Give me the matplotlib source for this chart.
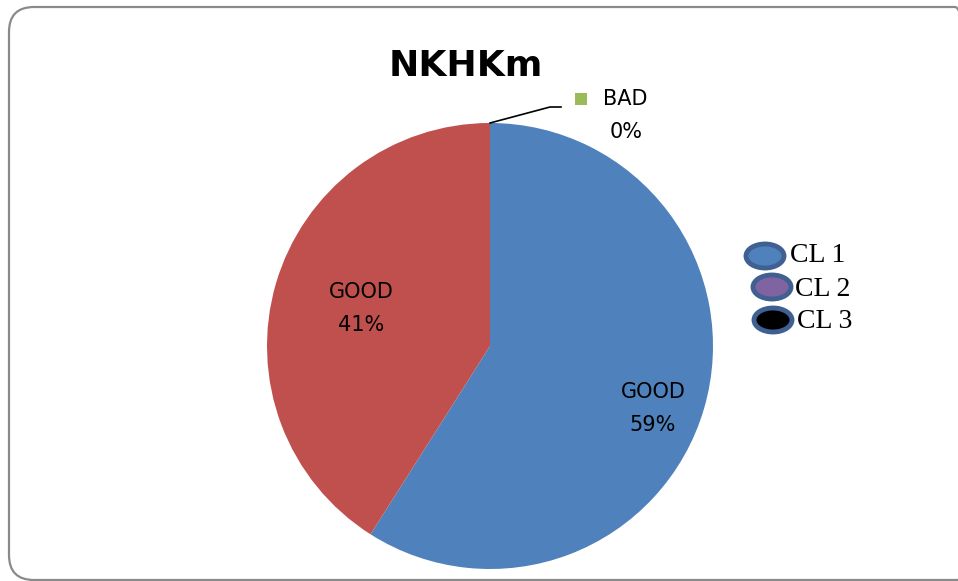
import numpy as np
import matplotlib
matplotlib.use("Agg")
import matplotlib.pyplot as plt
import matplotlib.patches as patches

# chart data
title = "NKHKm"
slice_names = ["GOOD", "GOOD", "BAD"]
slice_values = [59, 41, 0]
slice_colors = ["#4F81BD", "#C0504D", "#9BBB59"]
legend_names = ["CL 1", "CL 2", "CL 3"]
legend_colors = ["#4F81BD", "#8064A2", "#000000"]

W, H = 958, 581


def py(y):
    # image pixel row -> axes y (pixels, y up)
    return H - y


fig = plt.figure(figsize=(W / 100, H / 100), dpi=100)
ax = fig.add_axes([0, 0, 1, 1])

cx, cy, r = 490, py(346), 223
wedges, _ = ax.pie(
    slice_values,
    colors=slice_colors,
    startangle=90,
    counterclock=False,
    center=(cx, cy),
    radius=r,
    wedgeprops=dict(linewidth=0),
)
ax.set_xlim(0, W)
ax.set_ylim(0, H)
ax.set_aspect("auto")
ax.axis("off")

# outer rounded frame (right side runs off the picture)
fl, fb, fr, ft, rad = 9, 1, 980, 574, 25
frame = patches.FancyBboxPatch(
    (fl + rad, fb + rad), fr - fl - 2 * rad, ft - fb - 2 * rad,
    boxstyle=f"round,pad={rad}",
    fc="none", ec="#8A8A8A", lw=1.6, clip_on=False,
)
ax.add_patch(frame)

# title
ax.text(466, py(66), title, ha="center", va="center",
        fontsize=26, fontweight="bold", family="DejaVu Sans")

# slice labels
label_pos = [(653, 408), (361, 308)]
for (lx, ly), name, val in zip(label_pos, slice_names[:2], slice_values[:2]):
    ax.text(lx, py(ly - 16), name, ha="center", va="center",
            fontsize=15, family="DejaVu Sans")
    ax.text(lx, py(ly + 17), f"{val}%", ha="center", va="center",
            fontsize=15, family="DejaVu Sans")

# BAD label with leader line
ax.plot([490, 550, 561], [py(123), py(107), py(107)], color="black", lw=1.2)
ax.add_patch(patches.Rectangle((575, py(105)), 12, 12, fc=slice_colors[2], ec="none"))
ax.text(603, py(99), slice_names[2], ha="left", va="center",
        fontsize=15, family="DejaVu Sans")
ax.text(626, py(132), f"{slice_values[2]}%", ha="center", va="center",
        fontsize=15, family="DejaVu Sans")

# pasted legend
ell_pos = [(765, 256), (772, 287), (773, 320)]
txt_pos = [(790, 256), (795, 290), (797, 322)]
for (ex, ey), (tx, ty), name, col in zip(ell_pos, txt_pos, legend_names, legend_colors):
    ax.add_patch(patches.Ellipse((ex, py(ey)), 38, 24, fc=col, ec="#3F6090", lw=3.5))
    ax.text(tx, py(ty), name, ha="left", va="center",
            fontsize=20, family="Liberation Serif")

fig.savefig("out.png", dpi=100)
